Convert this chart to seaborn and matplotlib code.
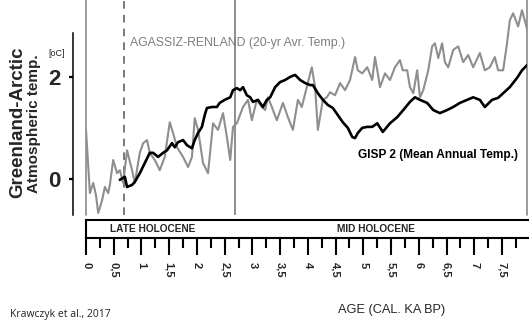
import matplotlib
matplotlib.use("Agg")
import matplotlib.pyplot as plt
import pandas as pd
import seaborn as sns

# ---- data: age in ka BP, temperature anomaly in degC ----
agassiz_age = [0.00, 0.07, 0.13, 0.18, 0.22, 0.29, 0.34, 0.40, 0.43, 0.49,
               0.56, 0.61, 0.67, 0.74, 0.83, 0.88, 0.97, 1.03, 1.10, 1.15,
               1.24, 1.33, 1.42, 1.51, 1.57, 1.64, 1.75, 1.84, 1.91, 1.96,
               2.02, 2.11, 2.20, 2.29, 2.38, 2.47, 2.54, 2.60, 2.65, 2.72,
               2.83, 2.92, 2.99, 3.08, 3.17, 3.23, 3.28, 3.35, 3.44, 3.55,
               3.64, 3.73, 3.82, 3.89, 3.98, 4.07, 4.13, 4.18, 4.27, 4.34,
               4.40, 4.49, 4.58, 4.67, 4.76, 4.85, 4.90, 4.98, 5.07, 5.16,
               5.21, 5.26, 5.30, 5.39, 5.48, 5.57, 5.66, 5.71, 5.79, 5.84,
               5.90, 5.97, 6.02, 6.08, 6.17, 6.24, 6.29, 6.35, 6.42, 6.47,
               6.53, 6.62, 6.71, 6.80, 6.89, 6.98, 7.10, 7.19, 7.28, 7.37,
               7.43, 7.52, 7.59, 7.64, 7.70, 7.79, 7.86, 7.91, 7.97]
agassiz_temp = [0.97, -0.27, -0.07, -0.31, -0.66, -0.41, -0.15, -0.27, -0.11, 0.38,
                0.12, 0.18, -0.07, 0.57, 0.18, -0.07, 0.52, 0.71, 0.77, 0.52,
                0.38, 0.18, 0.44, 1.12, 0.91, 0.63, 0.44, 0.24, 0.44, 1.20,
                0.97, 0.32, 0.12, 1.10, 0.97, 1.30, 0.83, 0.38, 1.03, 1.10,
                1.42, 1.56, 1.16, 1.56, 1.42, 1.36, 1.61, 1.42, 1.16, 1.50,
                1.22, 0.97, 1.56, 1.42, 1.81, 2.20, 1.81, 0.97, 1.56, 1.61,
                1.71, 1.65, 1.89, 1.75, 1.95, 2.40, 2.14, 2.08, 2.20, 1.95,
                2.40, 2.08, 1.81, 2.08, 1.95, 2.20, 2.34, 2.14, 2.14, 1.81,
                1.69, 2.14, 1.61, 1.75, 2.14, 2.61, 2.67, 2.38, 2.67, 2.30,
                2.20, 2.54, 2.61, 2.30, 2.44, 2.20, 2.48, 2.14, 2.20, 2.40,
                2.14, 2.14, 2.67, 3.12, 3.26, 3.00, 3.32, 3.12, 2.87]

gisp2_age = [0.61, 0.70, 0.74, 0.83, 0.88, 0.97, 1.06, 1.15, 1.21, 1.30,
             1.39, 1.46, 1.55, 1.60, 1.66, 1.75, 1.82, 1.91, 1.96, 2.02,
             2.09, 2.14, 2.18, 2.27, 2.36, 2.41, 2.50, 2.60, 2.65, 2.72,
             2.78, 2.83, 2.90, 2.96, 3.01, 3.10, 3.19, 3.26, 3.32, 3.41,
             3.50, 3.59, 3.68, 3.77, 3.86, 3.95, 4.04, 4.09, 4.18, 4.27,
             4.36, 4.45, 4.54, 4.63, 4.72, 4.80, 4.85, 4.90, 4.98, 5.07,
             5.16, 5.25, 5.35, 5.48, 5.61, 5.72, 5.84, 5.93, 6.02, 6.15,
             6.26, 6.38, 6.51, 6.62, 6.74, 6.87, 6.98, 7.10, 7.19, 7.32,
             7.43, 7.52, 7.64, 7.77, 7.86, 7.95]
gisp2_temp = [-0.01, 0.05, -0.15, -0.11, -0.05, 0.12, 0.32, 0.52, 0.52, 0.44,
              0.52, 0.57, 0.71, 0.63, 0.73, 0.77, 0.67, 0.61, 0.77, 0.91,
              1.03, 1.26, 1.40, 1.42, 1.42, 1.50, 1.56, 1.61, 1.75, 1.79,
              1.75, 1.81, 1.65, 1.61, 1.52, 1.56, 1.42, 1.56, 1.61, 1.81,
              1.91, 1.95, 2.01, 2.05, 1.95, 1.89, 1.85, 1.85, 1.69, 1.56,
              1.46, 1.40, 1.26, 1.12, 1.01, 0.83, 0.81, 0.91, 1.01, 1.03,
              1.03, 1.10, 0.93, 1.10, 1.22, 1.36, 1.52, 1.61, 1.56, 1.50,
              1.36, 1.30, 1.36, 1.42, 1.50, 1.56, 1.61, 1.56, 1.42, 1.56,
              1.60, 1.69, 1.81, 1.99, 2.14, 2.24]

y_ticks = [0, 2]
age_ticks = [0, 0.5, 1, 1.5, 2, 2.5, 3, 3.5, 4, 4.5, 5, 5.5, 6, 6.5, 7, 7.5]
age_tick_labels = ["0", "0,5", "1", "1,5", "2", "2,5", "3", "3,5", "4",
                   "4,5", "5", "5,5", "6", "6,5", "7", "7,5"]
late_mid_boundary = 0.68   # dashed marker
period_boundary = 2.68     # late / mid Holocene divide

sns.set_theme(style="white")
plt.rcParams["font.family"] = ["Liberation Sans", "DejaVu Sans"]

W, H = 529, 324
fig = plt.figure(figsize=(W / 100, H / 100), dpi=100)
fig.patch.set_facecolor("white")


def fx(px):
    return px / W


def fy(py):
    return 1 - py / H


# ---- main temperature panel ----
ax = fig.add_axes([fx(86), fy(215), fx(527) - fx(86), fy(0) - fy(215)])
ax.set_facecolor("white")

df_a = pd.DataFrame({"age": agassiz_age, "temp": agassiz_temp})
df_g = pd.DataFrame({"age": gisp2_age, "temp": gisp2_temp})
sns.lineplot(data=df_a, x="age", y="temp", ax=ax, color="#8e8e8e", lw=1.5,
             sort=False, estimator=None, zorder=3)
sns.lineplot(data=df_g, x="age", y="temp", ax=ax, color="#000000", lw=1.9,
             sort=False, estimator=None, zorder=4)

ax.set_xlim(0, 7.95)
ax.set_ylim(-0.70, 3.52)

ax.axvline(0, color="#8a8a8a", lw=1.2, clip_on=False, zorder=2)
ax.axvline(late_mid_boundary, color="#555555", lw=1.1, ls=(0, (5, 4)), zorder=2)
ax.axvline(period_boundary, color="#7a7a7a", lw=1.2, zorder=2)
ax.axvline(7.95, color="#8a8a8a", lw=1.2, clip_on=False, zorder=2)

for s in ["top", "right", "bottom"]:
    ax.spines[s].set_visible(False)
ax.spines["left"].set_position(("outward", 9.5))
ax.spines["left"].set_bounds(-0.70, 2.88)
ax.spines["left"].set_color("black")
ax.spines["left"].set_linewidth(1.1)

ax.set_xticks([])
ax.set_yticks(y_ticks)
ax.set_yticklabels([str(t) for t in y_ticks], fontsize=16, fontweight="bold")
ax.tick_params(axis="y", direction="out", length=3, width=1.6, color="black",
               pad=6, left=True)
ax.set_xlabel("")
ax.set_ylabel("")

ax.text(0.80, 2.68, "AGASSIZ-RENLAND (20-yr Avr. Temp.)", color="#7d7d7d",
        fontsize=8.8, va="center", ha="left")
ax.text(4.90, 0.47, "GISP 2 (Mean Annual Temp.)", color="black",
        fontsize=8.6, fontweight="bold", va="center", ha="left")

# ---- period band with the age axis ----
band = fig.add_axes([fx(86), fy(238), 1 - fx(86), fy(220) - fy(238)])
band.set_facecolor("white")
band.set_xlim(0, (W - 86) / 55.47)
band.set_ylim(0, 1)
band.set_yticks([])
band.spines["right"].set_visible(False)
for s in ["top", "bottom", "left"]:
    band.spines[s].set_color("black")
    band.spines[s].set_linewidth(1.5)
band.set_xticks(age_ticks)
band.set_xticks([t + 0.25 for t in age_ticks], minor=True)
band.set_xticklabels(age_tick_labels, rotation=-90, fontsize=8,
                     fontweight="bold")
band.tick_params(axis="x", which="major", direction="out", length=12,
                 width=1.5, color="black", pad=5, bottom=True)
band.tick_params(axis="x", which="minor", direction="out", length=7.5,
                 width=1.5, color="black", bottom=True)
band.text(1.21, 0.5, "LATE HOLOCENE", fontsize=7.3, fontweight="bold",
          ha="center", va="center")
band.text(5.23, 0.5, "MID HOLOCENE", fontsize=7.3, fontweight="bold",
          ha="center", va="center")

# ---- labels ----
fig.text(fx(18), fy(122), "Greenland-Arctic", rotation=90, fontsize=13.5,
         fontweight="bold", ha="center", va="center")
fig.text(fx(34), fy(124), "Atmospheric temp.", rotation=90, fontsize=11,
         fontweight="bold", ha="center", va="center")
fig.text(fx(57), fy(53), "[oC]", fontsize=6.5, ha="center", va="center")
fig.text(fx(392), fy(310), "AGE (CAL. KA BP)", fontsize=9.2, ha="center",
         va="center")
fig.text(fx(10), fy(314), "Krawczyk et al., 2017", fontsize=7.5,
         ha="left", va="center", family=["Open Sans", "DejaVu Sans"],
         color="#222222")

fig.savefig("out.png", dpi=100, facecolor="white")
